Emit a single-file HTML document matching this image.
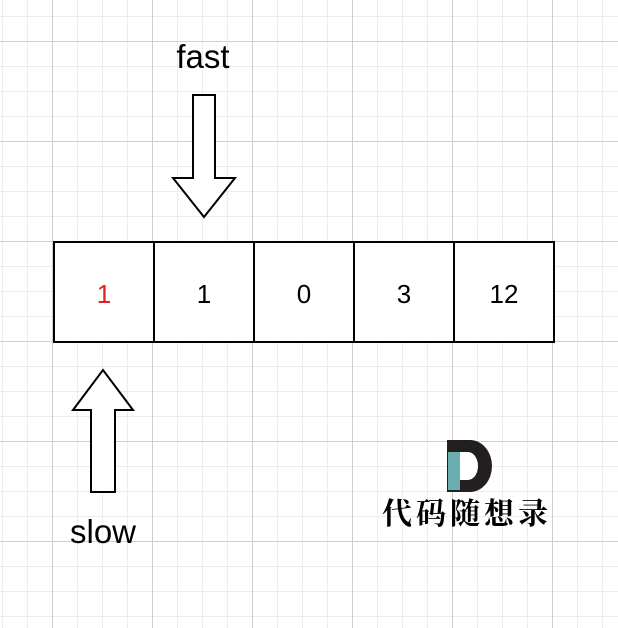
<!DOCTYPE html>
<html><head><style>
body{margin:0;background:#fff}
svg{display:block}
</style></head><body>
<svg width="618" height="628" xmlns="http://www.w3.org/2000/svg">
<defs>
<pattern id="mi" x="2" y="16" width="25" height="25" patternUnits="userSpaceOnUse">
<path d="M0 0H25M0 0V25" stroke="#ececec" stroke-width="2" fill="none"/>
</pattern>
<pattern id="ma" x="52" y="41" width="100" height="100" patternUnits="userSpaceOnUse">
<path d="M0 0.5H100M0.5 0V100" stroke="#cfcfcf" stroke-width="1" fill="none"/>
</pattern>
</defs>
<rect width="618" height="628" fill="#fff"/>
<rect width="618" height="628" fill="url(#mi)"/>
<rect width="618" height="628" fill="url(#ma)"/>
<g fill="#fff" stroke="#000" stroke-width="2">
<rect x="54" y="242" width="100" height="100"/>
<rect x="154" y="242" width="100" height="100"/>
<rect x="254" y="242" width="100" height="100"/>
<rect x="354" y="242" width="100" height="100"/>
<rect x="454" y="242" width="100" height="100"/>
<path d="M193 95H215V178H235L204 217L173 178H193Z"/>
<path d="M91 492H115V410H133L103 370L73 410H91Z"/>
</g>
<g font-family="Liberation Sans, sans-serif" font-size="26" text-anchor="middle">
<text x="104" y="303" fill="#e02020">1</text>
<text x="204" y="303">1</text>
<text x="304" y="303">0</text>
<text x="404" y="303">3</text>
<text x="504" y="303">12</text>
<text x="203" y="68" font-size="33">fast</text>
<text x="103" y="543" font-size="33">slow</text>
</g>
<path d="M447 440H470A22 26 0 0 1 470 492H447Z" fill="#231f1e"/>
<path d="M460 452H468A10 14 0 0 1 468 480H460Z" fill="#fff"/>
<rect x="448" y="452" width="12" height="38" fill="#6aaeb0"/>
<text x="467" y="524" font-family="Noto Serif CJK SC, serif" font-size="30" font-weight="bold" text-anchor="middle" letter-spacing="4">代码随想录</text>
</svg>
</body></html>
